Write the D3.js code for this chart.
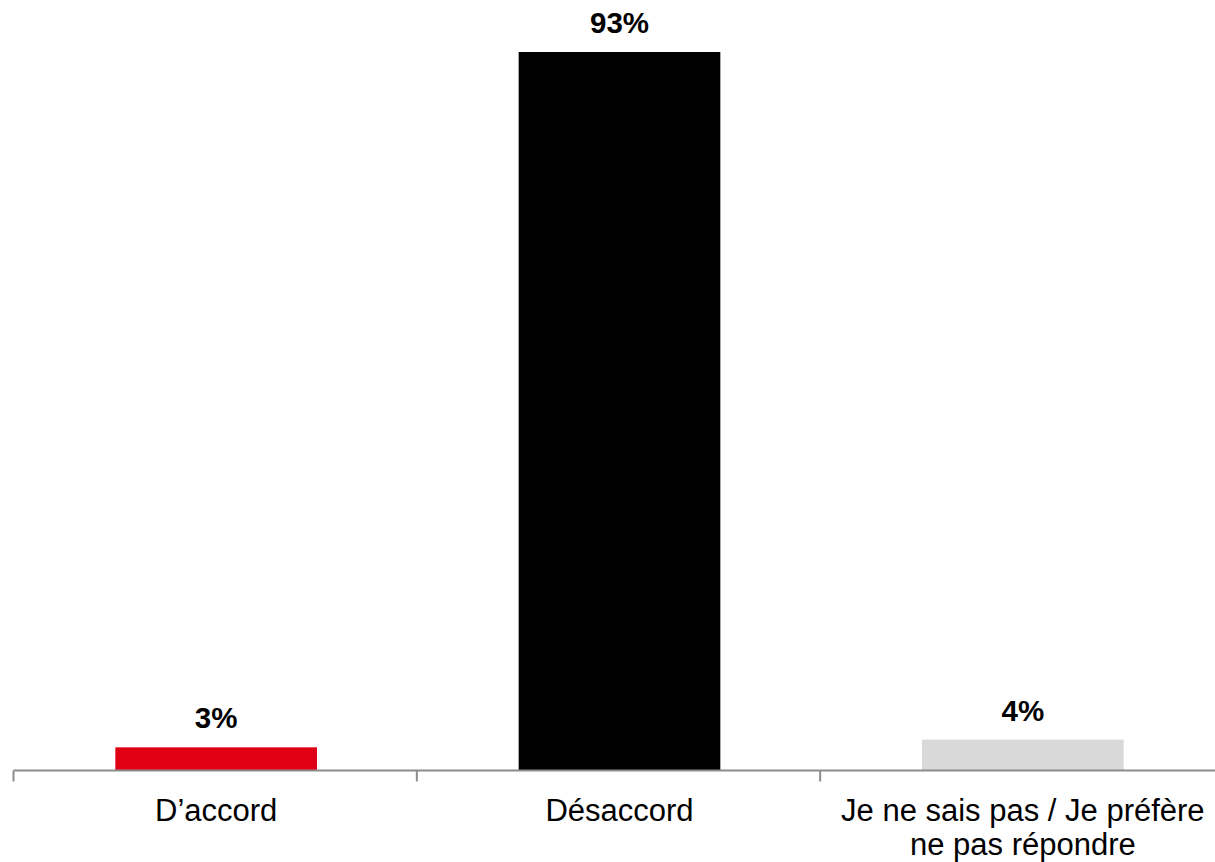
<!DOCTYPE html>
<html>
<head>
<meta charset="utf-8">
<script src="https://cdn.jsdelivr.net/npm/d3@7"></script>
<style>
  body { margin: 0; background: #fff; }
  svg { display: block; font-family: Arial, "Liberation Sans", sans-serif; }
</style>
</head>
<body>
<div id="chart"></div>
<script>
// Data
var categories = ['D\u2019accord', 'Désaccord', 'Je ne sais pas / Je préfère ne pas répondre'];
var labelLines = [['D\u2019accord'], ['Désaccord'], ['Je ne sais pas / Je préfère', 'ne pas répondre']];
var values = [3, 93, 4];
var colors = ['#e00016', '#000000', '#d9d9d9'];

var width = 1215, height = 862;
var baseY = 770.5;
var x0 = 14.5;

var svg = d3.select('#chart').append('svg')
    .attr('width', width)
    .attr('height', height);

// Scales
var x = d3.scaleBand()
    .domain(categories)
    .range([x0, x0 + 1210])
    .paddingInner(0.5)
    .paddingOuter(0.25);

var y = d3.scaleLinear()
    .domain([0, 93])
    .range([baseY, 52]);

// Bars
svg.selectAll('rect.bar').data(values)
    .enter().append('rect')
    .attr('class', 'bar')
    .attr('x', function (d, i) { return x(categories[i]); })
    .attr('y', function (d) { return y(d); })
    .attr('width', x.bandwidth())
    .attr('height', function (d) { return baseY - y(d); })
    .attr('fill', function (d, i) { return colors[i]; });

// Value labels
svg.selectAll('text.value').data(values)
    .enter().append('text')
    .attr('class', 'value')
    .attr('x', function (d, i) { return x(categories[i]) + x.bandwidth() / 2; })
    .attr('y', function (d) { return y(d) - 19; })
    .attr('text-anchor', 'middle')
    .style('font-size', '29.5px')
    .style('font-weight', 'bold')
    .attr('fill', '#000')
    .text(function (d) { return d + '%'; });

// X axis: line with ticks on band boundaries
var axis = svg.append('g').attr('class', 'x axis');
var step = x.step();
var bounds = [13.5, 13.5 + step, 13.5 + step * 2, 13.5 + step * 3];

axis.append('line')
    .attr('x1', 13.5).attr('x2', width)
    .attr('y1', baseY).attr('y2', baseY)
    .attr('stroke', '#8c8c8c')
    .attr('stroke-width', 2);

axis.selectAll('line.tick').data(bounds)
    .enter().append('line')
    .attr('class', 'tick')
    .attr('x1', function (d) { return d; })
    .attr('x2', function (d) { return d; })
    .attr('y1', baseY)
    .attr('y2', baseY + 11)
    .attr('stroke', '#8c8c8c')
    .attr('stroke-width', 2);

// Category labels
var cat = axis.selectAll('text.cat').data(categories)
    .enter().append('text')
    .attr('class', 'cat')
    .attr('text-anchor', 'middle')
    .attr('fill', '#000')
    .style('font-size', '31px');

cat.each(function (d, i) {
    var t = d3.select(this);
    var cx = x(d) + x.bandwidth() / 2;
    labelLines[i].forEach(function (line, j) {
        t.append('tspan')
            .attr('x', cx)
            .attr('y', 821 + j * 34)
            .text(line);
    });
});
</script>
</body>
</html>
